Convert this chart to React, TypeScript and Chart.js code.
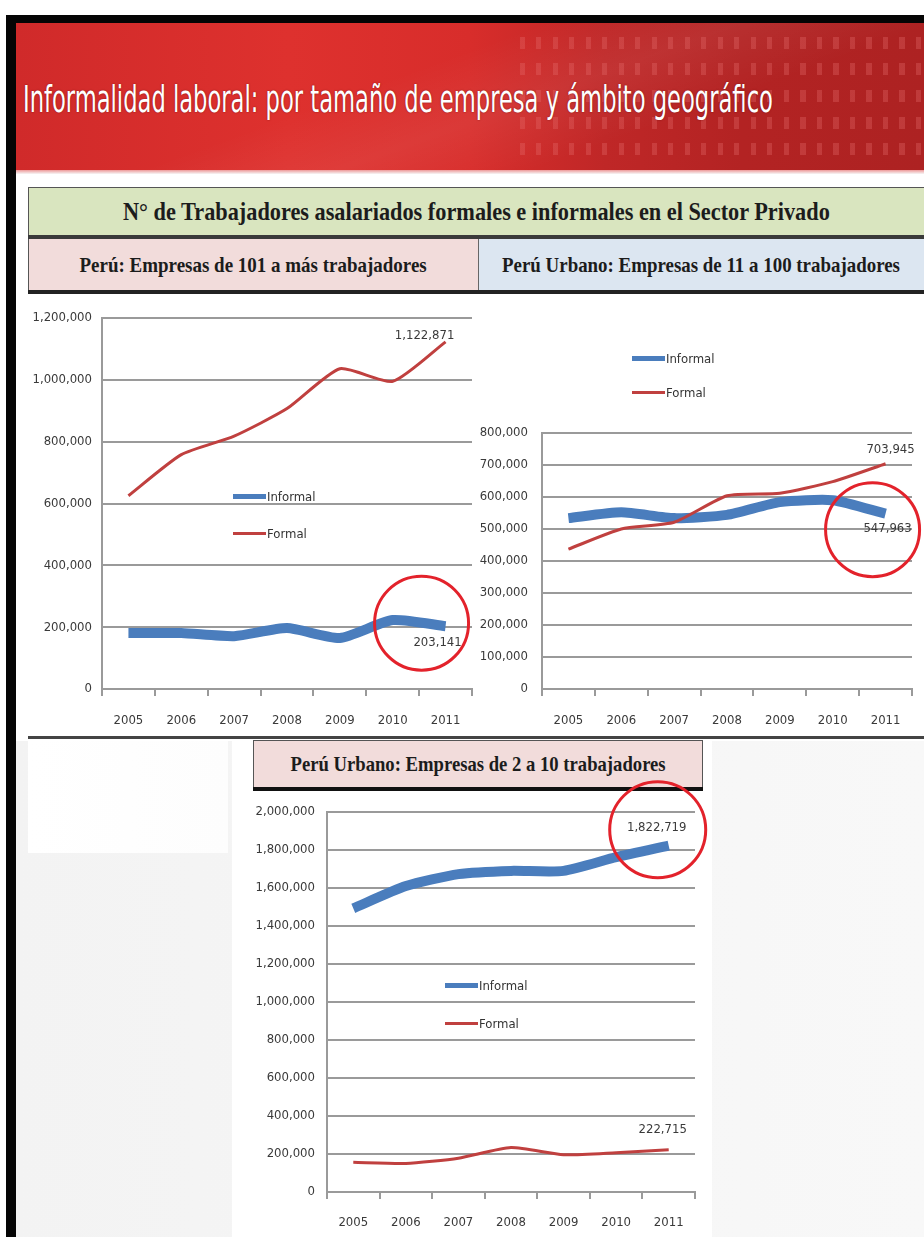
import React, { useEffect, useLayoutEffect, useRef, useState } from "react";
import { Chart, registerables } from "chart.js";

Chart.register(...registerables);

// ---------- DATA ----------
const YEARS = ["2005", "2006", "2007", "2008", "2009", "2010", "2011"];
const SERIES_NAMES = ["Informal", "Formal"];

const A_INFORMAL = [181000, 181000, 171000, 197000, 165000, 223000, 203141];
const A_FORMAL = [625000, 758000, 818000, 907000, 1036000, 995000, 1122871];

const B_INFORMAL = [534000, 552000, 534000, 544000, 584000, 590000, 547963];
const B_FORMAL = [437000, 500000, 521000, 604000, 612000, 648000, 703945];

const C_INFORMAL = [1493000, 1610000, 1673000, 1690000, 1690000, 1762000, 1822719];
const C_FORMAL = [156000, 150000, 178000, 234000, 196000, 207000, 222715];

const A_Y_MAX = 1200000;
const A_Y_STEP = 200000;
const B_Y_MAX = 800000;
const B_Y_STEP = 100000;
const C_Y_MAX = 2000000;
const C_Y_STEP = 200000;

const PAGE_TITLE = "Informalidad laboral: por tamaño de empresa y ámbito geográfico";
const MAIN_HEADER = "N° de Trabajadores asalariados formales e informales en el Sector Privado";
const A_TITLE = "Perú: Empresas de 101 a más trabajadores";
const B_TITLE = "Perú Urbano: Empresas de 11 a 100 trabajadores";
const C_TITLE = "Perú Urbano: Empresas de 2 a 10 trabajadores";

// ---------- STYLE ----------
const BLUE = "#4a7dbd";
const RED = "#c0403f";
const CIRCLE = "#e3222b";
const GRID = "#9a9a9a";
const LABEL = "#3a3a3a";
const NARROW = '"Liberation Sans Narrow", "Arial Narrow", "DejaVu Sans Condensed", sans-serif';
const SERIF = '"Liberation Serif", "DejaVu Serif", serif';
const SERIES_STYLE = [
  { color: BLUE, width: 10, legendWidth: 5 },
  { color: RED, width: 3, legendWidth: 3 },
];

type Note = { ds: number; i: number; dx: number; dy: number; circle?: { dx: number; dy: number; r: number } };

const notesPlugin = (notes: Note[]) => ({
  id: "notes",
  afterDatasetsDraw(chart: any) {
    const ctx = chart.ctx;
    ctx.save();
    notes.forEach((n) => {
      const el = chart.getDatasetMeta(n.ds).data[n.i];
      const v = chart.data.datasets[n.ds].data[n.i];
      ctx.font = `13px ${NARROW}`;
      ctx.fillStyle = LABEL;
      ctx.textAlign = "center";
      ctx.textBaseline = "middle";
      ctx.fillText(Number(v).toLocaleString("en-US"), el.x + n.dx, el.y + n.dy);
      if (n.circle) {
        ctx.beginPath();
        ctx.strokeStyle = CIRCLE;
        ctx.lineWidth = 3;
        ctx.arc(el.x + n.circle.dx, el.y + n.circle.dy, n.circle.r, 0, Math.PI * 2);
        ctx.stroke();
      }
    });
    ctx.restore();
  },
});

type Box = { x: number; y: number; w: number; h: number };
type Area = { left: number; right: number; top: number; bottom: number };

function LineChart(props: {
  informal: number[];
  formal: number[];
  yMax: number;
  yStep: number;
  box: Box;
  area: Area;
  yPad: number;
  xPad: number;
  notes: Note[];
}) {
  const ref = useRef<HTMLCanvasElement>(null);
  useEffect(() => {
    const { informal, formal, yMax, yStep, box, area, yPad, xPad, notes } = props;
    const font = { family: NARROW, size: 13 };
    const series = [informal, formal];
    const chart = new Chart(ref.current as HTMLCanvasElement, {
      type: "line",
      data: {
        labels: YEARS,
        datasets: series.map((d, k) => ({
          label: SERIES_NAMES[k],
          data: d,
          borderColor: SERIES_STYLE[k].color,
          backgroundColor: SERIES_STYLE[k].color,
          borderWidth: SERIES_STYLE[k].width,
          pointRadius: 0,
          tension: 0.2,
          borderJoinStyle: "round",
          order: k === 0 ? 1 : 0,
        })),
      },
      options: {
        responsive: false,
        maintainAspectRatio: false,
        animation: false,
        layout: { padding: { top: area.top, right: box.w - area.right, left: 0, bottom: 0 } },
        plugins: { legend: { display: false }, tooltip: { enabled: false } },
        scales: {
          x: {
            offset: true,
            grid: { offset: true, drawOnChartArea: false, drawTicks: true, tickLength: 7, color: GRID, lineWidth: 2 },
            border: { color: GRID, width: 2 },
            ticks: { font, color: LABEL, padding: xPad, maxRotation: 0, autoSkip: false },
            afterFit: (s: any) => {
              s.height = box.h - area.bottom;
            },
          },
          y: {
            min: 0,
            max: yMax,
            ticks: {
              stepSize: yStep,
              font,
              color: LABEL,
              padding: yPad,
              callback: (v: any) => Number(v).toLocaleString("en-US"),
            },
            grid: { color: GRID, lineWidth: 2, drawTicks: false },
            border: { color: GRID, width: 2 },
            afterFit: (s: any) => {
              s.width = area.left;
            },
          },
        },
      } as any,
      plugins: [notesPlugin(notes)],
    });
    return () => chart.destroy();
  }, []);
  const { box } = props;
  return (
    <canvas
      ref={ref}
      width={box.w}
      height={box.h}
      style={{ position: "absolute", left: box.x, top: box.y, width: box.w, height: box.h, zIndex: 3 }}
    />
  );
}

function Legend({ x, y, gap }: { x: number; y: number; gap: number }) {
  return (
    <div style={{ position: "absolute", left: x, top: y, zIndex: 4 }}>
      {SERIES_NAMES.map((name, k) => (
        <div key={name} style={{ display: "flex", alignItems: "center", height: 16, marginBottom: k === 0 ? gap - 16 : 0 }}>
          <div style={{ width: 33, height: SERIES_STYLE[k].legendWidth, background: SERIES_STYLE[k].color }} />
          <span style={{ font: `13px ${NARROW}`, color: "#333", marginLeft: 1 }}>{name}</span>
        </div>
      ))}
    </div>
  );
}

function FitText(props: {
  text: string;
  x: number;
  y: number;
  w: number;
  h: number;
  target: number;
  align?: "left" | "center";
  style: React.CSSProperties;
}) {
  const ref = useRef<HTMLSpanElement>(null);
  const [s, setS] = useState(1);
  useLayoutEffect(() => {
    if (ref.current) setS(props.target / ref.current.offsetWidth);
  }, []);
  const left = props.align === "left";
  return (
    <div
      style={{
        position: "absolute",
        left: props.x,
        top: props.y,
        width: props.w,
        height: props.h,
        display: "flex",
        alignItems: "center",
        justifyContent: left ? "flex-start" : "center",
        zIndex: 2,
      }}
    >
      <span
        ref={ref}
        style={{
          ...props.style,
          whiteSpace: "nowrap",
          display: "inline-block",
          transform: `scaleX(${s})`,
          transformOrigin: left ? "left center" : "center center",
        }}
      >
        {props.text}
      </span>
    </div>
  );
}

const abs = (x: number, y: number, w: number, h: number, extra: React.CSSProperties = {}): React.CSSProperties => ({
  position: "absolute",
  left: x,
  top: y,
  width: w,
  height: h,
  ...extra,
});

export default function App() {
  useLayoutEffect(() => {
    document.body.style.margin = "0";
  }, []);

  const dashRows = [37, 63, 90, 117, 143];

  return (
    <div style={{ position: "relative", width: 924, height: 1237, overflow: "hidden", background: "#ffffff" }}>
      {/* frame */}
      <div style={abs(6, 15, 918, 8, { background: "#050505" })} />
      <div style={abs(6, 15, 10, 1222, { background: "#050505", zIndex: 5 })} />

      {/* red banner */}
      <div
        style={abs(16, 23, 908, 149, {
          background:
            "linear-gradient(90deg, #d02a2a 0%, #de312e 30%, #d82d2b 50%, #bf2727 65%, #b32323 80%, #ad2222 100%)",
        })}
      />
      <div
        style={abs(16, 23, 908, 149, {
          background: "linear-gradient(160deg, rgba(255,255,255,0) 40%, rgba(255,255,255,0.06) 55%, rgba(255,255,255,0) 70%)",
        })}
      />
      {dashRows.map((r) => (
        <div
          key={r}
          style={abs(520, r, 404, 12, {
            backgroundImage:
              "repeating-linear-gradient(90deg, rgba(230,110,110,0.32) 0px, rgba(230,110,110,0.32) 5px, transparent 5px, transparent 16.5px)",
          })}
        />
      ))}
      <div style={abs(16, 170, 908, 4, { background: "linear-gradient(180deg, #e99 0%, #f6f6f6 100%)" })} />
      <FitText
        text={PAGE_TITLE}
        x={23}
        y={77}
        w={800}
        h={44}
        target={750}
        align="left"
        style={{ font: `38px ${NARROW}`, color: "#ffffff", lineHeight: "44px", textShadow: "0 0 2px rgba(90,0,0,0.7)" }}
      />

      {/* header boxes */}
      <div style={abs(28, 187, 896, 51, { background: "#d9e5bf", borderTop: "1px solid #555", borderLeft: "1px solid #555", boxSizing: "border-box" })} />
      <div style={abs(28, 235, 896, 4, { background: "#3a3a3a" })} />
      <FitText
        text={MAIN_HEADER}
        x={28}
        y={188}
        w={896}
        h={48}
        target={707}
        style={{ font: `bold 25px ${SERIF}`, color: "#1c1c1c" }}
      />
      <div style={abs(28, 239, 450, 52, { background: "#f2dcdb", borderLeft: "1px solid #555", boxSizing: "border-box" })} />
      <div style={abs(478, 239, 446, 52, { background: "#dce6f1", borderLeft: "1px solid #666", boxSizing: "border-box" })} />
      <div style={abs(28, 290, 896, 4, { background: "#222" })} />
      <FitText
        text={A_TITLE}
        x={28}
        y={240}
        w={450}
        h={50}
        target={347}
        style={{ font: `bold 21px ${SERIF}`, color: "#1c1c1c" }}
      />
      <FitText
        text={B_TITLE}
        x={478}
        y={240}
        w={446}
        h={50}
        target={398}
        style={{ font: `bold 21px ${SERIF}`, color: "#1c1c1c" }}
      />

      {/* lower background */}
      <div style={abs(16, 741, 908, 496, { background: "linear-gradient(90deg, #f3f3f3 0%, #f8f8f8 100%)" })} />
      <div style={abs(28, 741, 200, 112, { background: "linear-gradient(90deg, #ffffff 0%, #fdfdfd 100%)" })} />
      <div style={abs(232, 741, 480, 496, { background: "#ffffff" })} />
      <div style={abs(28, 736, 896, 3, { background: "#444" })} />

      {/* bottom chart title */}
      <div style={abs(253, 740, 450, 50, { background: "#f2dcdb", border: "1px solid #555", boxSizing: "border-box" })} />
      <div style={abs(253, 787, 450, 4, { background: "#111" })} />
      <FitText
        text={C_TITLE}
        x={253}
        y={741}
        w={450}
        h={46}
        target={375}
        style={{ font: `bold 21px ${SERIF}`, color: "#1c1c1c" }}
      />

      {/* charts */}
      <LineChart
        informal={A_INFORMAL}
        formal={A_FORMAL}
        yMax={A_Y_MAX}
        yStep={A_Y_STEP}
        box={{ x: 16, y: 296, w: 465, h: 440 }}
        area={{ left: 86, right: 456, top: 22, bottom: 393 }}
        yPad={10}
        xPad={17}
        notes={[
          { ds: 1, i: 6, dx: -21, dy: -6 },
          { ds: 0, i: 6, dx: -8, dy: 16, circle: { dx: -24, dy: -3, r: 47 } },
        ]}
      />
      <Legend x={233} y={488} gap={37} />

      <LineChart
        informal={B_INFORMAL}
        formal={B_FORMAL}
        yMax={B_Y_MAX}
        yStep={B_Y_STEP}
        box={{ x: 480, y: 300, w: 444, h: 436 }}
        area={{ left: 62, right: 432, top: 133, bottom: 389 }}
        yPad={14}
        xPad={17}
        notes={[
          { ds: 1, i: 6, dx: 5, dy: -14 },
          { ds: 0, i: 6, dx: 2, dy: 15, circle: { dx: -13, dy: 16, r: 47 } },
        ]}
      />
      <Legend x={632} y={350} gap={34} />

      <LineChart
        informal={C_INFORMAL}
        formal={C_FORMAL}
        yMax={C_Y_MAX}
        yStep={C_Y_STEP}
        box={{ x: 240, y: 770, w: 470, h: 467 }}
        area={{ left: 87, right: 455, top: 42, bottom: 422 }}
        yPad={12}
        xPad={16}
        notes={[
          { ds: 0, i: 6, dx: -12, dy: -18, circle: { dx: -11, dy: -16, r: 48 } },
          { ds: 1, i: 6, dx: -6, dy: -20 },
        ]}
      />
      <Legend x={445} y={977} gap={38} />
    </div>
  );
}
